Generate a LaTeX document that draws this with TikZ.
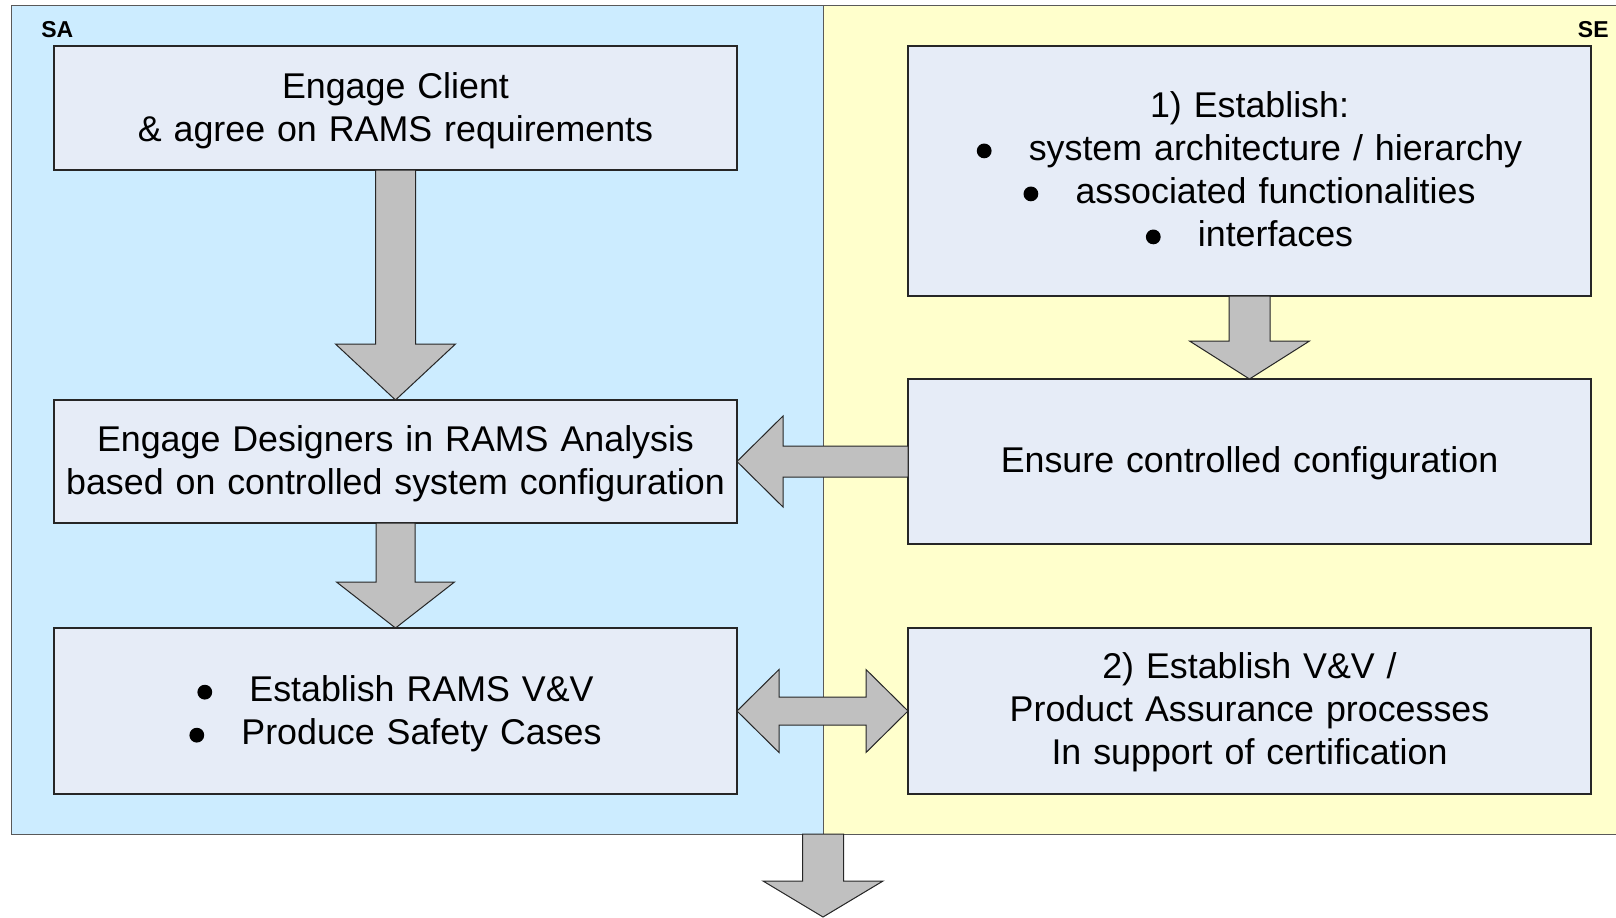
\documentclass[tikz,border=0pt]{standalone}
\usepackage{fontspec}
\setmainfont{Liberation Sans}
\usetikzlibrary{calc}

\definecolor{sablue}{HTML}{CCECFF}
\definecolor{seyellow}{HTML}{FFFFCC}
\definecolor{boxfill}{HTML}{E6ECF7}
\definecolor{arrowgray}{HTML}{C0C0C0}

% round list marker followed by the gap before the item text
\newcommand\itemdot{\raisebox{1pt}{\tikz\fill (0,0) circle (3.7pt);}\hspace{18.6pt}}

% block arrow pointing down: #1 start, #2 tip, #3 shaft half-width, #4 head half-width, #5 head length
\newcommand\blkdown[5]{%
  \draw[blockarrow] ($(#1)+(-#3,0)$) -- ($(#2)+(-#3,-#5)$) -- ($(#2)+(-#4,-#5)$) -- (#2)
    -- ($(#2)+(#4,-#5)$) -- ($(#2)+(#3,-#5)$) -- ($(#1)+(#3,0)$) -- cycle;}
% block arrow pointing left: #1 start (right), #2 tip (left)
\newcommand\blkleft[5]{%
  \draw[blockarrow] ($(#1)+(0,-#3)$) -- ($(#2)+(#5,-#3)$) -- ($(#2)+(#5,-#4)$) -- (#2)
    -- ($(#2)+(#5,#4)$) -- ($(#2)+(#5,#3)$) -- ($(#1)+(0,#3)$) -- cycle;}
% double-headed horizontal block arrow between #1 (left tip) and #2 (right tip)
\newcommand\blkboth[5]{%
  \draw[blockarrow] (#1) -- ($(#1)+(#5,-#4)$) -- ($(#1)+(#5,-#3)$) -- ($(#2)+(-#5,-#3)$)
    -- ($(#2)+(-#5,-#4)$) -- (#2) -- ($(#2)+(-#5,#4)$) -- ($(#2)+(-#5,#3)$)
    -- ($(#1)+(#5,#3)$) -- ($(#1)+(#5,#4)$) -- cycle;}

\begin{document}
\begin{tikzpicture}[x=0.5pt,y=-0.5pt,
  panel/.style={draw=black!65, line width=0.5pt, inner sep=0, outer sep=0, anchor=north west},
  stepbox/.style={draw=black!85, fill=boxfill, line width=0.6pt, minimum width=341.5pt,
    inner sep=0, outer sep=0},
  steptext/.style={inner sep=0, align=center, text width=340pt,
    font=\fontsize{17.9}{21.5}\selectfont},
  tag/.style={font=\bfseries\fontsize{11.5}{13}\selectfont, inner sep=0},
  blockarrow/.style={fill=arrowgray, draw=black!85, line width=0.5pt, line join=miter}]

\useasboundingbox (0,0) rectangle (1616,917);
\clip (0,0) rectangle (1616,917);

% the two lanes
\node[panel, fill=sablue, minimum width=406pt, minimum height=414.5pt] (sa) at (11,5) {};
\node[panel, fill=seyellow, minimum width=400pt, minimum height=414.5pt] (se) at (823,5) {};
\node[tag, anchor=west] (satag) at (41,30) {SA};
\node[tag, anchor=east] (setag) at (1609,30) {SE};

% SA steps
\node[stepbox, minimum height=62pt,
  label={[steptext, yshift=-1.4pt]center:Engage Client\\\& agree on RAMS requirements}]
  (b1) at (395.5,108) {};
\node[stepbox, minimum height=61.5pt,
  label={[steptext, yshift=-1.1pt]center:Engage Designers in RAMS Analysis\\based on controlled system configuration}]
  (b2) at (395.5,461.5) {};
\node[stepbox, minimum height=83pt,
  label={[steptext, yshift=-1.4pt]center:\itemdot Establish RAMS V\&V\\\itemdot Produce Safety Cases}]
  (b3) at (395.5,711) {};

% SE steps
\node[stepbox, minimum height=125pt,
  label={[steptext, yshift=1pt]center:1) Establish:\\\itemdot system architecture / hierarchy\\\itemdot associated functionalities\\\itemdot interfaces}]
  (r1) at (1249.5,171) {};
\node[stepbox, minimum height=82.5pt,
  label={[steptext, yshift=-1.1pt]center:Ensure controlled configuration}]
  (r2) at (1249.5,461.5) {};
\node[stepbox, minimum height=83pt,
  label={[steptext, yshift=-0.7pt]center:2) Establish V\&V /\\Product Assurance processes\\In support of certification}]
  (r3) at (1249.5,711) {};

\coordinate (out) at (823,917);

% flow arrows
\blkdown{b1.south}{b2.north}{20}{60}{56}
\blkdown{b2.south}{b3.north}{19.5}{59}{46}
\blkdown{r1.south}{r2.north}{20.5}{60}{38}
\blkleft{r2.west}{b2.east}{15.5}{45.5}{46}
\blkboth{b3.east}{r3.west}{14}{41.5}{42}
\blkdown{sa.south east}{out}{20.5}{60}{36}

\end{tikzpicture}
\end{document}
